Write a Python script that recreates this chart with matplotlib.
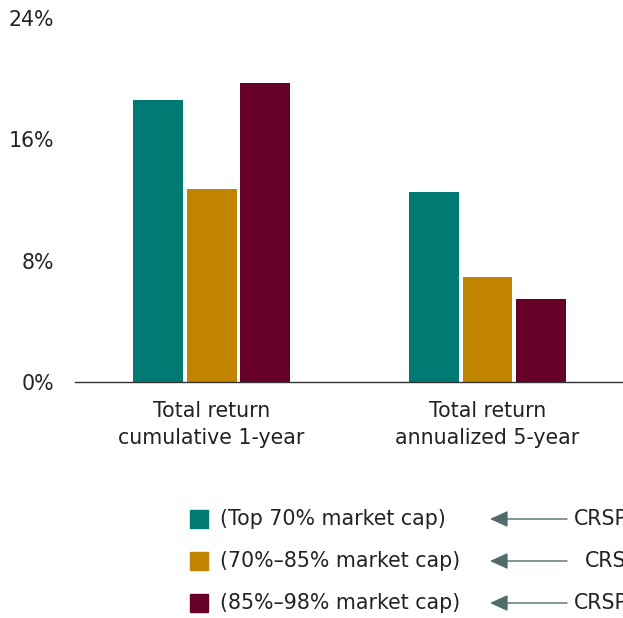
import numpy as np
import matplotlib
matplotlib.use("Agg")
import matplotlib.pyplot as plt
import matplotlib.patches as patches

plt.rcParams['font.family'] = ['DejaVu Sans']

categories = ["Total return\ncumulative 1-year", "Total return\nannualized 5-year"]
series_names = ["(Top 70% market cap)", "(70%\u201385% market cap)", "(85%\u201398% market cap)"]
series_labels = ["CRSP", "CRSP", "CRSP"]
top70 = [18.6, 12.5]
mid = [12.7, 6.9]
small = [19.7, 5.5]
colors = ["#007A72", "#C08400", "#660028"]
yticks = [0, 8, 16, 24]
ytick_labels = ["0%", "8%", "16%", "24%"]

W, H = 623, 618
fig = plt.figure(figsize=(W / 100, H / 100), dpi=100)
ax = fig.add_axes([75 / W, 1 - 382 / H, 1 - 75 / W, (382 - 18) / H])

x = np.arange(len(categories))
w = 0.181
pitch = 0.194
for i, vals in enumerate([top70, mid, small]):
    ax.bar(x + (i - 1) * pitch, vals, width=w, color=colors[i], linewidth=0)

fs = 14.8
ax.set_xlim(-0.495, 1.491)
ax.set_ylim(0, 24)
ax.set_yticks(yticks)
ax.set_yticklabels(ytick_labels, fontsize=fs, color="#222222")
ax.set_xticks(x)
ax.set_xticklabels(categories, fontsize=fs, color="#222222", linespacing=1.4)
ax.tick_params(axis='both', length=0)
ax.tick_params(axis='y', pad=15)
ax.tick_params(axis='x', pad=14)
for s in ['top', 'right', 'left']:
    ax.spines[s].set_visible(False)
ax.spines['bottom'].set_color("#333333")
ax.spines['bottom'].set_linewidth(1.0)

# legend with arrows
rows_y = [519, 561, 603]
crsp_x = [574, 585, 574]
for i in range(3):
    yc = 1 - rows_y[i] / H
    fig.patches.append(patches.Rectangle((190 / W, yc - 9 / H), 18 / W, 18 / H,
                                         transform=fig.transFigure, color=colors[i]))
    fig.text(220 / W, yc, series_names[i], fontsize=fs, color="#222222", va='center')
    fig.patches.append(patches.FancyArrowPatch((567 / W, yc), (490 / W, yc),
                                               transform=fig.transFigure,
                                               arrowstyle='-|>,head_length=11,head_width=5',
                                               color="#4F6B6B", linewidth=1.0,
                                               shrinkA=0, shrinkB=0))
    fig.text(crsp_x[i] / W, yc, series_labels[i], fontsize=fs, color="#222222", va='center')

fig.savefig("out.png", dpi=100)
